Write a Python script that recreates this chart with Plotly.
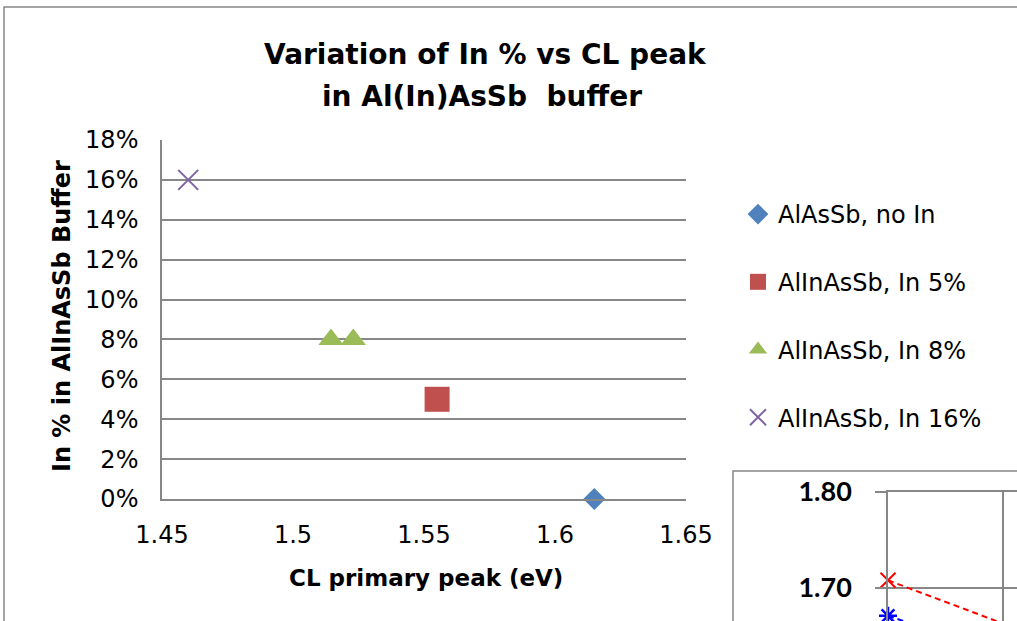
import plotly.graph_objects as go

W, H = 1017, 621

# ---- main chart data ----
series_names = ["AlAsSb, no In", "AlInAsSb, In 5%", "AlInAsSb, In 8%", "AlInAsSb, In 16%"]
cl_peak_noIn = [1.615]
in_pct_noIn = [0.0]
cl_peak_5 = [1.555]
in_pct_5 = [0.05]
cl_peak_8 = [1.5145, 1.523]
in_pct_8 = [0.08, 0.08]
cl_peak_16 = [1.460]
in_pct_16 = [0.16]

x_tickvals = [1.45, 1.5, 1.55, 1.6, 1.65]
x_ticktext = ["1.45", "1.5", "1.55", "1.6", "1.65"]
y_tickvals = [0, 0.02, 0.04, 0.06, 0.08, 0.10, 0.12, 0.14, 0.16, 0.18]

# ---- partially visible inset chart data ----
inset_x = [1, 2]
inset_red = [1.708, 1.663]
inset_blue = [1.671, 1.630]
inset_yticks = [1.70, 1.80]
inset_yticktext = ["1.70", "1.80"]

FONT = "DejaVu Sans"
GRID = "#878787"

def px_x(p):
    return p / W

def px_y(p):
    return (H - p) / H

fig = go.Figure()

fig.add_trace(go.Scatter(x=cl_peak_noIn, y=in_pct_noIn, mode="markers", name=series_names[0],
                         legendgroup="a", cliponaxis=False,
                         marker=dict(symbol="diamond", size=17, color="#4F81BD")))
fig.add_trace(go.Scatter(x=cl_peak_5, y=in_pct_5, mode="markers", name=series_names[1],
                         legendgroup="b", cliponaxis=False,
                         marker=dict(symbol="square", size=25, color="#C0504D")))
fig.add_trace(go.Scatter(x=cl_peak_8, y=in_pct_8, mode="markers", name=series_names[2],
                         legendgroup="c", cliponaxis=False,
                         marker=dict(symbol="triangle-up", size=22, color="#9BBB59")))
fig.add_trace(go.Scatter(x=cl_peak_16, y=in_pct_16, mode="markers", name=series_names[3],
                         legendgroup="d", cliponaxis=False,
                         marker=dict(symbol="x-thin", size=20, color="#8064A2",
                                     line=dict(color="#8064A2", width=2))))

# inset traces
fig.add_trace(go.Scatter(x=inset_x, y=inset_red, mode="lines+markers", xaxis="x2", yaxis="y2",
                         showlegend=False, cliponaxis=False,
                         line=dict(color="#FF0000", width=2, dash="6px,4px"),
                         marker=dict(symbol="x-thin", size=15, color="#FF0000",
                                     line=dict(color="#FF0000", width=2))))
fig.add_trace(go.Scatter(x=inset_x, y=inset_blue, mode="lines+markers", xaxis="x2", yaxis="y2",
                         showlegend=False, cliponaxis=False,
                         line=dict(color="#0000FF", width=2, dash="6px,4px"),
                         marker=dict(symbol="asterisk-open", size=15, color="#0000FF",
                                     line=dict(color="#0000FF", width=2.5))))

fig.update_layout(
    width=W, height=H,
    margin=dict(l=0, r=0, t=0, b=0, pad=0, autoexpand=False),
    paper_bgcolor="white", plot_bgcolor="white",
    font=dict(family=FONT, size=24, color="black"),
    showlegend=True,
    legend=dict(x=px_x(738), y=px_y(192), xanchor="left", yanchor="top",
                font=dict(family=FONT, size=24, color="black"),
                tracegroupgap=33.5, bgcolor="rgba(0,0,0,0)"),
    xaxis=dict(domain=[px_x(162), px_x(686)], range=[1.45, 1.65],
               tickvals=x_tickvals, ticktext=x_ticktext,
               showgrid=False, zeroline=False, showline=True, linecolor=GRID, linewidth=1.5,
               ticks="", ticklabelstandoff=13, automargin=False,
               tickfont=dict(family=FONT, size=24, color="black"),
               anchor="y"),
    yaxis=dict(domain=[px_y(499), px_y(140)], range=[0, 0.18],
               tickvals=y_tickvals, tickformat=".0%",
               showgrid=True, gridcolor=GRID, gridwidth=1.5,
               zeroline=False, showline=True, linecolor=GRID, linewidth=1.5,
               ticks="", ticklabelstandoff=17, automargin=False,
               tickfont=dict(family=FONT, size=24, color="black"),
               anchor="x"),
    xaxis2=dict(domain=[px_x(888), 1.0], range=[1.0, 2.1217],
                tickvals=inset_x, showticklabels=False, automargin=False,
                showgrid=True, gridcolor=GRID, gridwidth=1.5,
                zeroline=False, showline=True, side="top", linecolor=GRID, linewidth=1.5,
                ticks="", anchor="y2"),
    yaxis2=dict(domain=[0.0, px_y(492)], range=[1.6656, 1.80],
                tickvals=inset_yticks, ticktext=inset_yticktext,
                showgrid=True, gridcolor=GRID, gridwidth=1.5,
                zeroline=False, showline=True, linecolor=GRID, linewidth=1.5,
                automargin=False,
                ticks="outside", ticklen=11, tickcolor=GRID, tickwidth=1.5,
                ticklabelstandoff=18,
                tickfont=dict(family="Lato", size=27, color="black", weight="bold"),
                anchor="x2"),
    shapes=[
        dict(type="rect", xref="paper", yref="paper",
             x0=px_x(4), x1=1.05, y0=-0.1, y1=px_y(7),
             line=dict(color=GRID, width=1.5), fillcolor="rgba(0,0,0,0)", layer="below"),
        dict(type="rect", xref="paper", yref="paper",
             x0=px_x(733), x1=1.05, y0=-0.1, y1=px_y(471),
             line=dict(color=GRID, width=1.5), fillcolor="white", layer="below"),
    ],
    annotations=[
        dict(text="<b>Variation of In % vs CL peak</b>", xref="paper", yref="paper",
             x=px_x(485), y=px_y(55), xanchor="center", yanchor="middle", showarrow=False,
             font=dict(family=FONT, size=28, color="black")),
        dict(text="<b>in Al(In)AsSb  buffer</b>", xref="paper", yref="paper",
             x=px_x(482), y=px_y(96), xanchor="center", yanchor="middle", showarrow=False,
             font=dict(family=FONT, size=28, color="black")),
        dict(text="<b>In % in AlInAsSb Buffer</b>", xref="paper", yref="paper",
             x=px_x(62), y=px_y(316), xanchor="center", yanchor="middle", showarrow=False,
             textangle=-90,
             font=dict(family=FONT, size=24, color="black")),
        dict(text="<b>CL primary peak (eV)</b>", xref="paper", yref="paper",
             x=px_x(426), y=px_y(578), xanchor="center", yanchor="middle", showarrow=False,
             font=dict(family=FONT, size=23, color="black")),
    ],
)

fig.write_html("out.html")
